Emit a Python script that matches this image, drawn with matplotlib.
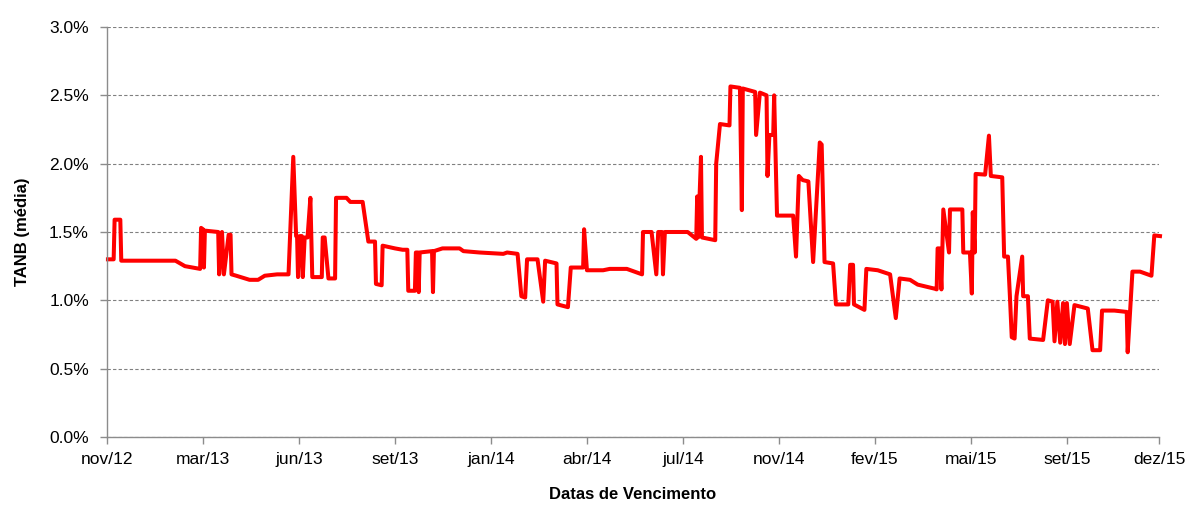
import matplotlib
matplotlib.use("Agg")
import matplotlib.pyplot as plt
import pandas as pd

# dias desde 30/11/2012 e TANB média (%)
dias = [1, 7, 8, 14, 15, 72, 82, 98, 99, 101, 102, 103, 117, 118, 121, 123, 128, 130, 131,
        136, 150, 159, 166, 179, 191, 196, 199, 200, 201, 203, 205, 206, 208, 211, 214, 216,
        226, 227, 229, 233, 240, 241, 252, 256, 269, 275, 282, 283, 289, 290, 303, 311, 316,
        317, 324, 325, 327, 328, 329, 342, 343, 344, 353, 371, 375, 392, 417, 421, 432, 436,
        440, 442, 453, 459, 461, 473, 474, 485, 488, 501, 502, 505, 522, 529, 547, 555, 563,
        564, 573, 578, 580, 584, 585, 587, 611, 619, 620, 621, 622, 625, 626, 640, 641, 645,
        655, 656, 666, 668, 669, 682, 683, 687, 694, 695, 697, 701, 702, 705, 722, 725, 728,
        732, 738, 743, 750, 752, 755, 764, 767, 780, 782, 785, 786, 797, 799, 811, 824, 830,
        834, 845, 853, 871, 873, 874, 876, 878, 880, 886, 887, 900, 901, 908, 910, 911, 913,
        914, 924, 928, 930, 942, 944, 948, 950, 952, 955, 957, 963, 964, 969, 971, 985, 990,
        995, 997, 1000, 1003, 1006, 1008, 1010, 1013, 1018, 1032, 1037, 1045, 1047, 1060,
        1073, 1074, 1079, 1087, 1099, 1102, 1108]
tanb = [1.30, 1.30, 1.59, 1.59, 1.29, 1.29, 1.25, 1.23, 1.53, 1.52, 1.24, 1.51, 1.50, 1.19,
        1.50, 1.19, 1.48, 1.48, 1.19, 1.18, 1.15, 1.15, 1.18, 1.19, 1.19, 2.05, 1.47, 1.47,
        1.17, 1.47, 1.47, 1.17, 1.46, 1.46, 1.75, 1.17, 1.17, 1.46, 1.46, 1.16, 1.16, 1.75,
        1.75, 1.72, 1.72, 1.43, 1.43, 1.12, 1.11, 1.40, 1.38, 1.37, 1.37, 1.07, 1.07, 1.35,
        1.35, 1.06, 1.35, 1.36, 1.06, 1.36, 1.38, 1.38, 1.36, 1.35, 1.34, 1.35, 1.34, 1.03,
        1.02, 1.30, 1.30, 0.99, 1.29, 1.27, 0.97, 0.95, 1.24, 1.24, 1.52, 1.22, 1.22, 1.23,
        1.23, 1.21, 1.19, 1.50, 1.50, 1.19, 1.50, 1.50, 1.19, 1.50, 1.50, 1.455, 1.45, 1.76,
        1.46, 2.05, 1.46, 1.44, 2.00, 2.29, 2.28, 2.565, 2.555, 1.66, 2.55, 2.525, 2.21,
        2.52, 2.50, 1.91, 2.21, 2.21, 2.50, 1.62, 1.62, 1.32, 1.91, 1.88, 1.87, 1.28, 2.155,
        2.14, 1.28, 1.27, 0.97, 0.97, 1.26, 1.26, 0.97, 0.93, 1.23, 1.22, 1.19, 0.87, 1.16,
        1.15, 1.115, 1.085, 1.08, 1.38, 1.38, 1.08, 1.665, 1.35, 1.665, 1.665, 1.35, 1.35,
        1.05, 1.645, 1.35, 1.925, 1.92, 2.205, 1.91, 1.90, 1.32, 1.32, 1.04, 0.73, 0.72,
        1.03, 1.32, 1.03, 1.03, 0.72, 0.71, 1.00, 0.99, 0.70, 0.99, 0.69, 0.98, 0.68, 0.98,
        0.68, 0.965, 0.94, 0.635, 0.635, 0.925, 0.925, 0.915, 0.62, 1.21, 1.21, 1.18, 1.475,
        1.47]

tick_labels = ["nov/12", "mar/13", "jun/13", "set/13", "jan/14", "abr/14",
               "jul/14", "nov/14", "fev/15", "mai/15", "set/15", "dez/15"]
tick_dias = [0, 101, 202, 303, 404, 505, 606, 707, 808, 909, 1010, 1107]

inicio = pd.Timestamp("2012-11-30")
datas = inicio + pd.to_timedelta(dias, unit="D")
tick_datas = inicio + pd.to_timedelta(tick_dias, unit="D")

plt.rcParams["font.family"] = ["Liberation Sans", "DejaVu Sans"]

fig = plt.figure(figsize=(11.85, 5.05), dpi=100)
ax = fig.add_axes([0.0903, 0.1347, 0.8878, 0.8118])

ax.plot(datas, tanb, color="#FF0000", linewidth=2.9, solid_joinstyle="round", clip_on=False)

ax.set_ylim(0, 3.0)
ax.set_yticks([0, 0.5, 1.0, 1.5, 2.0, 2.5, 3.0])
ax.set_yticklabels([f"{v:.1f}%" for v in ax.get_yticks()])
ax.set_xlim(tick_datas[0], tick_datas[-1])
ax.set_xticks(tick_datas)
ax.set_xticklabels(tick_labels)

ax.grid(axis="y", linestyle=(0, (3, 2)), color="#808080", linewidth=0.8)
ax.set_axisbelow(True)
for s in ["top", "right"]:
    ax.spines[s].set_visible(False)
for s in ["left", "bottom"]:
    ax.spines[s].set_color("#8C8C8C")
    ax.spines[s].set_linewidth(1.0)
ax.tick_params(axis="both", colors="#8C8C8C", labelcolor="black", labelsize=12.5,
               length=5, width=1.0)
ax.tick_params(axis="y", pad=8)
ax.tick_params(axis="x", pad=6)

ax.set_ylabel("TANB (média)", fontsize=12, fontweight="bold", labelpad=14)
ax.set_xlabel("Datas de Vencimento", fontsize=12, fontweight="bold", labelpad=14)

fig.savefig("out.png", dpi=100)
